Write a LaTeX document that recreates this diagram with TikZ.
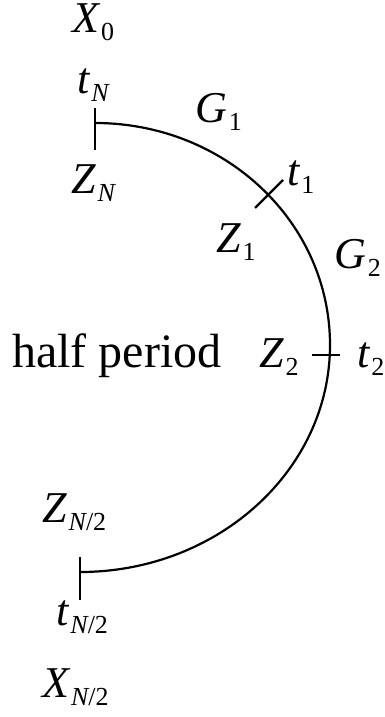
\documentclass[tikz,border=0pt]{standalone}
\usepackage{fontspec}
\setmainfont{Liberation Serif}
\usetikzlibrary{positioning}

\newcommand{\subsz}{\fontsize{26}{26}\selectfont}
\newcommand{\sublab}[2]{{\itshape #1}\kern2pt\raisebox{-8pt}{\subsz #2}}

\begin{document}
\begin{tikzpicture}[
  x=1pt,y=-1pt,
  lab/.style={inner sep=0pt,anchor=base west,font=\fontsize{44}{44}\selectfont},
  wire/.style={line width=2.2pt,black},
]
  \useasboundingbox (0,0) rectangle (385,717);

  % End points of the arc and tick marks
  \coordinate (top) at (95,123);
  \coordinate (topA) at (95,108);
  \coordinate (topB) at (95,150);
  \coordinate (mid) at (330,345);
  \coordinate (bot) at (80,572);
  \coordinate (botA) at (80,557);
  \coordinate (botB) at (80,600);
  \coordinate (oneA) at (255,208);
  \coordinate (oneB) at (283,180);
  \coordinate (twoA) at (312,355);
  \coordinate (twoB) at (340,355);

  % Half period arc
  \draw[wire] (top) .. controls (225,123) and (330,222) .. (mid)
                    .. controls (330,470) and (218,572) .. (bot);
  \draw[wire] (topA) -- (topB);
  \draw[wire] (botA) -- (botB);
  \draw[wire] (oneA) -- (oneB);
  \draw[wire] (twoA) -- (twoB);

  % Labels
  \node[lab] (x0) at (72,33) {\sublab{X}{0}};
  \node[lab] (tN) at (77,93) {\sublab{t}{\itshape N}};
  \node[lab] (g1) at (195,122) {\sublab{G}{1}};
  \node[lab] (zN) at (71,193) {\sublab{Z}{\itshape N}};
  \node[lab] (t1) at (287,185) {\sublab{t}{1}};
  \node[lab] (z1) at (216,252) {\sublab{Z}{1}};
  \node[lab] (g2) at (334,268) {\sublab{G}{2}};
  \node[lab] (z2) at (259,367) {\sublab{Z}{2}};
  \node[lab] (t2) at (357,367) {\sublab{t}{2}};
  \node[lab,font=\fontsize{48}{48}\selectfont] (half) at (12,367) {half period};
  \node[lab] (zN2) at (42,522) {\sublab{Z}{{\itshape N}/2}};
  \node[lab] (tN2) at (56,625) {\sublab{t}{{\itshape N}/2}};
  \node[lab] (xN2) at (42,697) {\sublab{X}{{\itshape N}/2}};
\end{tikzpicture}
\end{document}
